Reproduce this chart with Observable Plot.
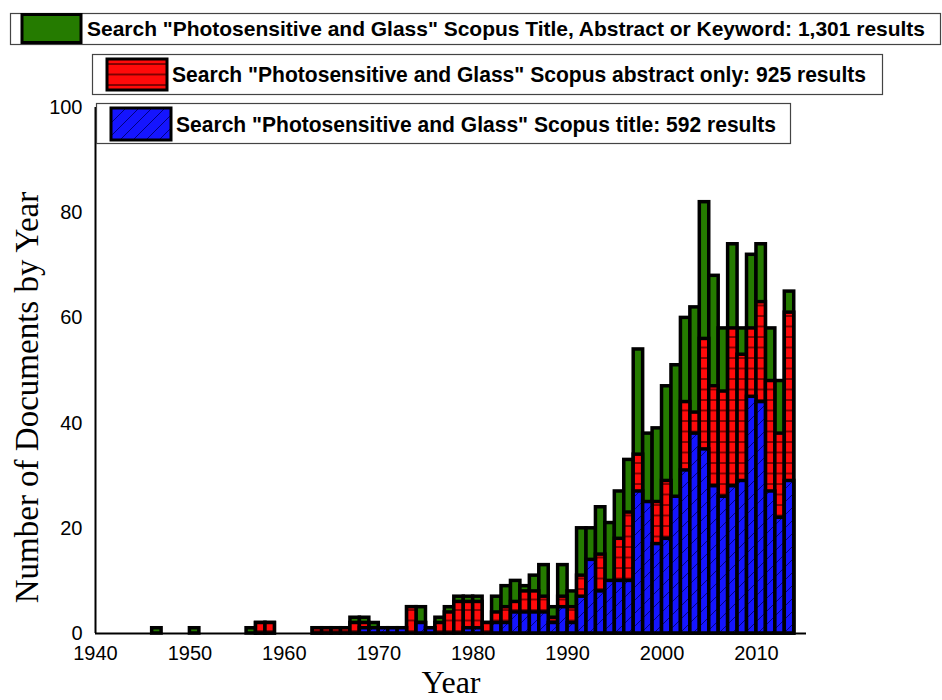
<!DOCTYPE html>
<html>
<head>
<meta charset="utf-8">
<script src="https://cdn.jsdelivr.net/npm/d3@7"></script>
<script src="https://cdn.jsdelivr.net/npm/@observablehq/plot@0.6"></script>
<style>
  body { margin: 0; background: #fff; }
  #wrap { position: relative; width: 942px; height: 700px; overflow: hidden; background: #fff; }
  #legend { position: absolute; left: 0; top: 0; pointer-events: none; }
</style>
</head>
<body>
<svg width="0" height="0" style="position:absolute">
  <defs>
    <pattern id="redHatch" patternUnits="userSpaceOnUse" width="10" height="10.5">
      <rect width="10" height="10.5" fill="#ff0a0a"/>
      <line x1="0" x2="10" y1="1" y2="1" stroke="#7a0000" stroke-width="1.8"/>
    </pattern>
    <pattern id="blueHatch" patternUnits="userSpaceOnUse" width="13" height="13">
      <rect width="13" height="13" fill="#1515ff"/>
      <path d="M0,13 L13,0 M-3,3 L3,-3 M10,16 L16,10" stroke="#000080" stroke-width="1"/>
    </pattern>
  </defs>
</svg>
<div id="wrap"></div>
<script>
// ---- data ----
const years = [1946, 1950, 1956, 1957, 1958, 1963, 1964, 1965, 1966, 1967, 1968, 1969, 1970, 1971, 1972,
  1973, 1974, 1975, 1976, 1977, 1978, 1979, 1980, 1981, 1982, 1983, 1984, 1985, 1986, 1987, 1988,
  1989, 1990, 1991, 1992, 1993, 1994, 1995, 1996, 1997, 1998, 1999, 2000, 2001, 2002, 2003, 2004,
  2005, 2006, 2007, 2008, 2009, 2010, 2011, 2012, 2013];
// Title, Abstract or Keyword (green)
const titleAbstractKeyword = [1, 1, 1, 2, 2, 1, 1, 1, 1, 3, 3, 2, 1, 1, 1,
  5, 5, 1, 3, 5, 7, 7, 7, 2, 7, 9, 10, 9, 11, 13, 5,
  13, 8, 20, 20, 24, 21, 27, 33, 54, 38, 39, 47, 51, 60, 62, 82,
  68, 58, 74, 58, 72, 74, 58, 48, 65];
// Abstract only (red)
const abstractOnly = [0, 0, 0, 2, 2, 1, 1, 1, 1, 2, 2, 1, 1, 1, 1,
  5, 2, 1, 2, 4, 6, 6, 6, 2, 4, 5, 6, 8, 8, 7, 3,
  7, 5, 11, 10, 15, 8, 18, 23, 34, 20, 25, 29, 22, 44, 42, 56,
  47, 46, 58, 53, 58, 63, 48, 38, 61];
// Title only (blue)
const titleOnly = [0, 0, 0, 0, 0, 0, 0, 0, 0, 0, 1, 1, 1, 1, 1,
  0, 2, 1, 0, 0, 0, 1, 1, 0, 2, 2, 4, 4, 4, 4, 2,
  5, 2, 7, 14, 8, 10, 10, 10, 27, 25, 17, 18, 26, 31, 38, 35,
  28, 26, 28, 29, 45, 44, 27, 22, 29];

const xTicks = [1940, 1950, 1960, 1970, 1980, 1990, 2000, 2010];
const yTicks = [0, 20, 40, 60, 80, 100];
const legendLabels = [
  'Search "Photosensitive and Glass" Scopus Title, Abstract or Keyword: 1,301 results',
  'Search "Photosensitive and Glass" Scopus abstract only: 925 results',
  'Search "Photosensitive and Glass" Scopus title: 592 results'
];
const seriesFills = ["#257b00", "url(#redHatch)", "url(#blueHatch)"];

// ---- build table ----
const rows = years.map((year, i) => ({
  year, next: year + 1,
  green: titleAbstractKeyword[i], red: abstractOnly[i], blue: titleOnly[i]
}));

const serif = "'Liberation Serif', 'Times New Roman', serif";

const chart = Plot.plot({
  width: 942,
  height: 700,
  marginLeft: 95,
  marginRight: 136,
  marginTop: 107,
  marginBottom: 67,
  style: { fontFamily: "'Liberation Sans', Arial, sans-serif", fontSize: "20px", background: "#fff", color: "#000" },
  x: { domain: [1940, 2015.3] },
  y: { domain: [0, 100] },
  marks: [
    Plot.rectY(rows.filter(d => d.green > 0), { x1: "year", x2: "next", y: "green", fill: seriesFills[0], stroke: "#000", strokeWidth: 3.5 }),
    Plot.rectY(rows.filter(d => d.red > 0), { x1: "year", x2: "next", y: "red", fill: seriesFills[1], stroke: "#000", strokeWidth: 3.5 }),
    Plot.rectY(rows.filter(d => d.blue > 0), { x1: "year", x2: "next", y: "blue", fill: seriesFills[2], stroke: "#000", strokeWidth: 3.5 }),
    Plot.ruleY([0], { stroke: "#000", strokeWidth: 2 }),
    Plot.ruleX([1940], { y1: 0, y2: 100, stroke: "#000", strokeWidth: 2 }),
    Plot.axisX({ ticks: xTicks, tickSize: 0, tickPadding: 12, tickFormat: d => String(d), label: null, fontSize: 20 }),
    Plot.axisY({ ticks: yTicks, tickSize: 0, tickPadding: 13, label: null, fontSize: 20 }),
    Plot.text(["Year"], { text: d => d, frameAnchor: "bottom", dy: 49, lineAnchor: "middle", fontSize: 32, fontFamily: serif, fill: "#000" }),
    Plot.text(["Number of Documents by Year"], { text: d => d, frameAnchor: "left", rotate: -90, dx: -68, dy: 27,
      textAnchor: "middle", lineAnchor: "middle", fontSize: 33, fontFamily: serif, fill: "#000" })
  ]
});

const wrap = document.getElementById("wrap");
wrap.appendChild(chart);

// ---- legend overlay (three boxed entries) ----
const legendLayout = [
  { bx: 10.5, by: 13.5, bw: 930, bh: 31, sx: 22, sy: 14.5, sw: 59, sh: 28, tx: 87, tw: 838, ty: 36, fs: 21 },
  { bx: 92.5, by: 54.5, bw: 790, bh: 40, sx: 107, sy: 59, sw: 60, sh: 31, tx: 172, tw: 694, ty: 82, fs: 22 },
  { bx: 96.5, by: 103.5, bw: 694, bh: 40, sx: 111, sy: 108, sw: 60, sh: 32, tx: 176, tw: 600, ty: 132, fs: 22 }
];
const lg = d3.select(wrap).append("svg")
  .attr("id", "legend").attr("width", 942).attr("height", 700);
legendLayout.forEach((L, i) => {
  const g = lg.append("g");
  g.append("rect").attr("x", L.bx).attr("y", L.by).attr("width", L.bw).attr("height", L.bh)
    .attr("fill", "#fff").attr("stroke", "#444").attr("stroke-width", 1.2);
  g.append("rect").attr("x", L.sx).attr("y", L.sy).attr("width", L.sw).attr("height", L.sh)
    .attr("fill", seriesFills[i]).attr("stroke", "#000").attr("stroke-width", 3);
  g.append("text").attr("x", L.tx).attr("y", L.ty)
    .attr("textLength", L.tw).attr("lengthAdjust", "spacingAndGlyphs")
    .attr("font-family", "'Liberation Sans Narrow', 'Arial Narrow', 'Liberation Sans', Arial, sans-serif")
    .attr("font-weight", "bold").attr("font-size", L.fs).attr("fill", "#000")
    .text(legendLabels[i]);
});
</script>
</body>
</html>
